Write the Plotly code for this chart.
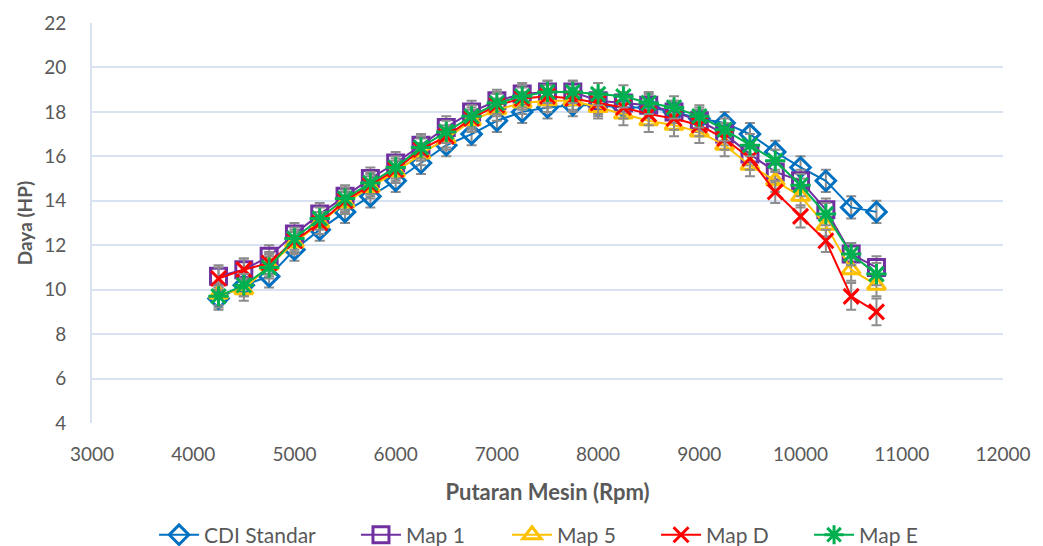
import plotly.graph_objects as go

rpm = [4250, 4500, 4750, 5000, 5250, 5500, 5750, 6000, 6250, 6500, 6750, 7000, 7250, 7500,
       7750, 8000, 8250, 8500, 8750, 9000, 9250, 9500, 9750, 10000, 10250, 10500, 10750]

cdi_standar = [9.6, 10.2, 10.6, 11.8, 12.7, 13.5, 14.2, 14.9, 15.7, 16.5, 17.0, 17.6, 18.0, 18.2,
               18.3, 18.3, 18.2, 18.2, 18.0, 17.7, 17.5, 17.0, 16.2, 15.5, 14.9, 13.7, 13.5]
map_1 = [10.6, 10.9, 11.5, 12.5, 13.4, 14.2, 15.0, 15.7, 16.5, 17.3, 18.0, 18.5, 18.8, 18.9,
         18.9, 18.5, 18.4, 18.3, 18.0, 17.6, 17.0, 16.1, 15.3, 14.9, 13.6, 11.6, 11.0]
map_5 = [9.8, 10.0, 11.1, 12.1, 13.0, 13.9, 14.6, 15.3, 16.1, 16.8, 17.6, 18.1, 18.4, 18.5,
         18.5, 18.2, 17.9, 17.6, 17.4, 17.1, 16.5, 15.6, 14.9, 14.2, 12.9, 10.9, 10.2]
map_d = [10.5, 10.9, 11.2, 12.2, 13.0, 14.0, 14.7, 15.4, 16.3, 16.9, 17.7, 18.3, 18.6, 18.7,
         18.6, 18.4, 18.2, 17.9, 17.7, 17.4, 16.8, 15.9, 14.4, 13.3, 12.2, 9.7, 9.0]
map_e = [9.7, 10.2, 11.0, 12.3, 13.2, 14.1, 14.8, 15.5, 16.4, 17.1, 17.8, 18.4, 18.7, 18.9,
         18.9, 18.8, 18.7, 18.4, 18.2, 17.8, 17.2, 16.5, 15.8, 14.7, 13.4, 11.6, 10.7]

err_cdi = [0.5] * len(rpm)
err_map1 = [0.5] * len(rpm)
err_map5 = [0.5] * len(rpm)
err_mapd = [0.5] * 25 + [0.6, 0.6]
err_mape = [0.5] * len(rpm)

x_ticks = list(range(3000, 12001, 1000))
y_ticks = list(range(4, 23, 2))

series = [
    ("CDI Standar", cdi_standar, err_cdi, "#0070C0", "diamond-open", 15),
    ("Map 1", map_1, err_map1, "#7030A0", "square-open", 16),
    ("Map 5", map_5, err_map5, "#FFC000", "triangle-up-open", 16),
    ("Map D", map_d, err_mapd, "#FF0000", "x-thin-open", 15),
    ("Map E", map_e, err_mape, "#00B050", "asterisk-open", 17),
]
legend_x = [0.1477, 0.3413, 0.4861, 0.6290, 0.7757]

fig = go.Figure()
legend_layouts = {}
for i, (name, vals, errs, color, sym, size) in enumerate(series):
    lid = "legend" if i == 0 else f"legend{i + 1}"
    fig.add_trace(go.Scatter(
        x=rpm, y=vals, name=name, mode="lines+markers",
        line=dict(color=color, width=2),
        marker=dict(symbol=sym, size=size, color=color, line=dict(color=color, width=3)),
        error_y=dict(type="data", array=errs, visible=True, color="#8C8C8C", thickness=2, width=5),
        legend=lid,
    ))
    legend_layouts[lid] = dict(orientation="h", xref="container", yref="container",
                               x=legend_x[i], xanchor="left", y=0.02, yanchor="middle",
                               font=dict(size=21, color="#595959"), itemwidth=40,
                               bgcolor="rgba(0,0,0,0)")

# white breaks in horizontal gridlines at vertical grid positions
for xv in x_ticks[1:-1]:
    fig.add_shape(type="line", xref="x", yref="paper", x0=xv, x1=xv, y0=0, y1=1,
                  line=dict(color="white", width=2), layer="between")

font_family = "Lato, 'Open Sans', sans-serif"
fig.update_layout(
    width=1043, height=546,
    margin=dict(l=92, r=40, t=23, b=123),
    paper_bgcolor="white", plot_bgcolor="white",
    font=dict(family=font_family, size=19, color="#595959"),
    showlegend=True,
    xaxis=dict(range=[3000, 12000], tickvals=x_ticks, tickformat="d", showgrid=False, zeroline=False,
               showline=False, ticks="", ticklabelstandoff=18, automargin=False,
               title=dict(text="<b>Putaran Mesin (Rpm)</b>", font=dict(size=22, color="#595959"), standoff=20)),
    yaxis=dict(range=[4, 22], tickvals=y_ticks, showgrid=True, gridcolor="#D9E2F3", gridwidth=2,
               zeroline=False, showline=True, linecolor="#D9E2F3", linewidth=2, ticks="",
               ticklabelstandoff=20, automargin=False,
               title=dict(text="<b>Daya (HP)</b>", font=dict(size=19, color="#595959"), standoff=7)),
)
fig.update_layout(**legend_layouts)

fig.write_html("out.html")
